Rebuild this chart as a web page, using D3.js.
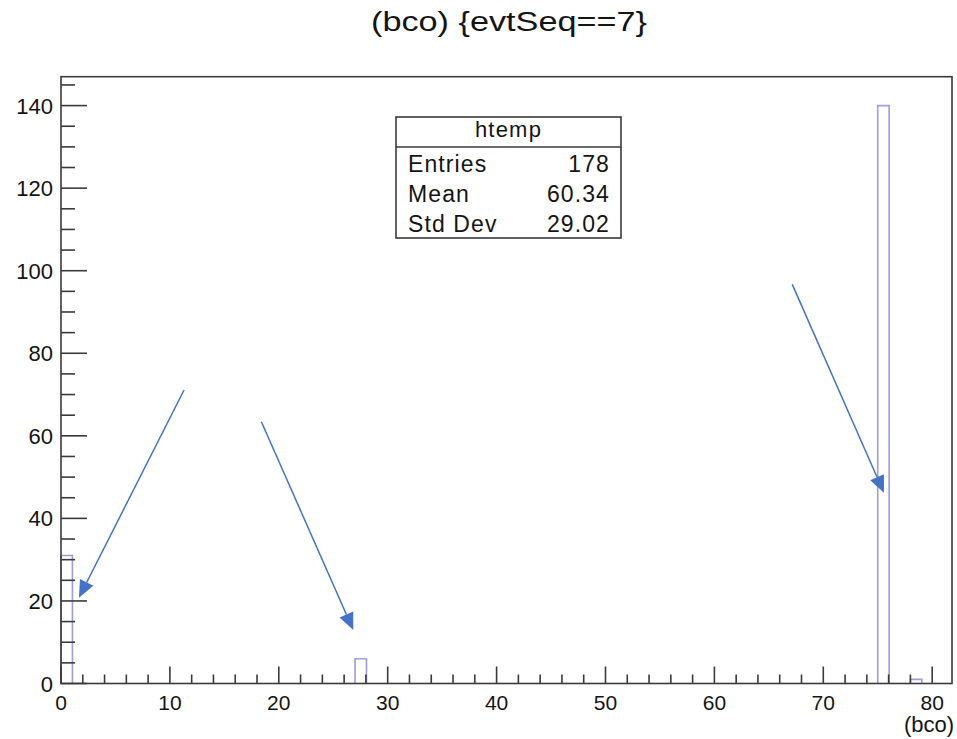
<!DOCTYPE html>
<html>
<head>
<meta charset="utf-8">
<script src="https://cdn.jsdelivr.net/npm/d3@7"></script>
<style>
  html, body { margin: 0; padding: 0; background: #fff; }
  svg { display: block; font-family: "Liberation Sans", Arial, Helvetica, sans-serif; }
</style>
</head>
<body>
<svg id="chart" width="957" height="739"></svg>
<script>
// Histogram of bco for evtSeq==7: lower bin edges and entries per bin
const binStarts = [0, 27, 75, 78];
const binCounts = [31, 6, 140, 1];
const binWidth = 1.05;

const xTickValues = [0, 10, 20, 30, 40, 50, 60, 70, 80];
const yTickValues = [0, 20, 40, 60, 80, 100, 120, 140];

const titleText = "(bco) {evtSeq==7}";
const xAxisTitle = "(bco)";
const statsName = "htemp";
const statsLabels = ["Entries", "Mean", "Std Dev"];
const statsValues = ["178", "60.34", "29.02"];

// Annotation arrows (data units): start point -> tip
const arrowFromX = [11.3, 18.4, 67.15];
const arrowFromY = [71.1, 63.4, 96.7];
const arrowToX = [1.65, 26.84, 75.57];
const arrowToY = [20.8, 12.96, 46.2];

const frame = { left: 61, right: 952, top: 76.7, bottom: 683.5 };

const svg = d3.select("#chart");

const x = d3.scaleLinear().domain([0, 81.82]).range([frame.left, frame.right]);
const y = d3.scaleLinear().domain([0, 147]).range([frame.bottom, frame.top]);

const axisColor = "#3a3a3a";
const textColor = "#141414";
const barColor = "#9c9cde";
const arrowColor = "#4472c4";

// Title (wide Helvetica-like setting)
svg.append("text")
  .attr("x", 509).attr("y", 31)
  .attr("text-anchor", "middle")
  .attr("font-size", 27)
  .attr("textLength", 276)
  .attr("lengthAdjust", "spacingAndGlyphs")
  .attr("fill", textColor)
  .text(titleText);

// Histogram bars (outline only)
const bars = binStarts.map((s, i) => ({ x0: s, x1: s + binWidth, n: binCounts[i] }));
svg.append("g")
  .selectAll("path")
  .data(bars)
  .join("path")
  .attr("d", d => {
    const xa = x(d.x0), xb = x(d.x1), yt = y(d.n), yb = y(0);
    return `M${xa},${yb}V${yt}H${xb}V${yb}`;
  })
  .attr("fill", "none")
  .attr("stroke", barColor)
  .attr("stroke-width", 1.6);

// Frame
svg.append("rect")
  .attr("x", frame.left).attr("y", frame.top)
  .attr("width", frame.right - frame.left)
  .attr("height", frame.bottom - frame.top)
  .attr("fill", "none")
  .attr("stroke", axisColor)
  .attr("stroke-width", 1.6);

// X axis: major ticks every 10, minor every 2, drawn upward inside the frame
const xMinor = d3.range(0, 82, 2).filter(v => v % 10 !== 0);
const xg = svg.append("g");
xg.selectAll("line.major").data(xTickValues).join("line")
  .attr("x1", d => x(d)).attr("x2", d => x(d))
  .attr("y1", frame.bottom).attr("y2", frame.bottom - 17)
  .attr("stroke", axisColor).attr("stroke-width", 1.6);
xg.selectAll("line.minor").data(xMinor).join("line")
  .attr("x1", d => x(d)).attr("x2", d => x(d))
  .attr("y1", frame.bottom).attr("y2", frame.bottom - 9)
  .attr("stroke", axisColor).attr("stroke-width", 1.6);
xg.selectAll("text").data(xTickValues).join("text")
  .attr("x", d => x(d)).attr("y", 710)
  .attr("text-anchor", "middle")
  .attr("font-size", 21)
  .attr("fill", textColor)
  .text(d => d);

svg.append("text")
  .attr("x", 954).attr("y", 732)
  .attr("text-anchor", "end")
  .attr("font-size", 22)
  .attr("fill", textColor)
  .text(xAxisTitle);

// Y axis: major ticks every 20, minor every 5
const yMinor = d3.range(0, 147, 5).filter(v => v % 20 !== 0);
const yg = svg.append("g");
yg.selectAll("line.major").data(yTickValues).join("line")
  .attr("x1", frame.left).attr("x2", frame.left + 26)
  .attr("y1", d => y(d)).attr("y2", d => y(d))
  .attr("stroke", axisColor).attr("stroke-width", 1.6);
yg.selectAll("line.minor").data(yMinor).join("line")
  .attr("x1", frame.left).attr("x2", frame.left + 14)
  .attr("y1", d => y(d)).attr("y2", d => y(d))
  .attr("stroke", axisColor).attr("stroke-width", 1.6);
yg.selectAll("text").data(yTickValues).join("text")
  .attr("x", 53).attr("y", d => y(d) + 8)
  .attr("text-anchor", "end")
  .attr("font-size", 22)
  .attr("fill", textColor)
  .text(d => d);

// Statistics box
const box = { x: 396, y: 117, w: 225, h: 121, header: 30 };
const sg = svg.append("g");
sg.append("rect")
  .attr("x", box.x).attr("y", box.y).attr("width", box.w).attr("height", box.h)
  .attr("fill", "#fff").attr("stroke", axisColor).attr("stroke-width", 1.6);
sg.append("line")
  .attr("x1", box.x).attr("x2", box.x + box.w)
  .attr("y1", box.y + box.header).attr("y2", box.y + box.header)
  .attr("stroke", axisColor).attr("stroke-width", 1.6);
sg.append("text")
  .attr("x", box.x + box.w / 2).attr("y", box.y + 20)
  .attr("text-anchor", "middle").attr("font-size", 22)
  .attr("letter-spacing", 1.2).attr("fill", textColor)
  .text(statsName);
statsLabels.forEach((lab, i) => {
  const yy = box.y + 54.5 + i * 30;
  sg.append("text").attr("x", box.x + 12).attr("y", yy)
    .attr("font-size", 23).attr("letter-spacing", 1.1)
    .attr("fill", textColor).text(lab);
  sg.append("text").attr("x", box.x + box.w - 11).attr("y", yy)
    .attr("text-anchor", "end").attr("font-size", 23).attr("letter-spacing", 1.1)
    .attr("fill", textColor).text(statsValues[i]);
});

// Annotation arrows
const ag = svg.append("g");
arrowFromX.forEach((fx, i) => {
  const x1 = x(fx), y1 = y(arrowFromY[i]);
  const x2 = x(arrowToX[i]), y2 = y(arrowToY[i]);
  const ang = Math.atan2(y2 - y1, x2 - x1);
  const len = 17, half = 7.5;
  const bx = x2 - len * Math.cos(ang), by = y2 - len * Math.sin(ang);
  ag.append("line")
    .attr("x1", x1).attr("y1", y1).attr("x2", bx).attr("y2", by)
    .attr("stroke", arrowColor).attr("stroke-width", 1.5);
  const px = -Math.sin(ang) * half, py = Math.cos(ang) * half;
  ag.append("path")
    .attr("d", `M${x2},${y2}L${bx + px},${by + py}L${bx - px},${by - py}Z`)
    .attr("fill", arrowColor);
});
</script>
</body>
</html>
